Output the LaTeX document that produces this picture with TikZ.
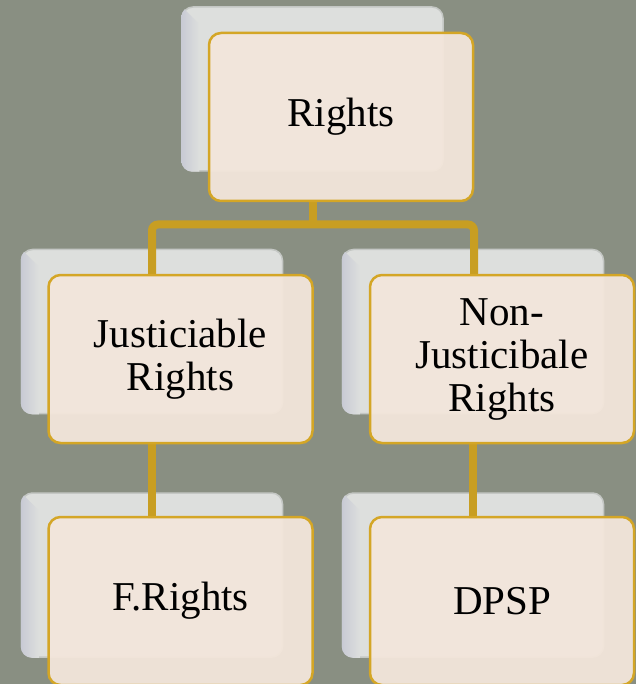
\documentclass[tikz,border=0pt]{standalone}
\usepackage{fontspec}
\setmainfont{Liberation Serif}
\begin{document}
\definecolor{bgcol}{RGB}{137,143,130}
\definecolor{linkcol}{RGB}{200,158,34}
\definecolor{facecol}{RGB}{243,230,219}
\definecolor{rimcol}{RGB}{212,166,38}
\definecolor{backcol}{RGB}{221,223,221}
\definecolor{bevelcol}{RGB}{200,202,212}
\definecolor{backrim}{RGB}{196,199,196}
\tikzset{
  link/.style={draw=linkcol, line width=8pt, rounded corners=6pt},
  backbox/.style={rectangle, rounded corners=11pt, draw=backrim, line width=1.5pt,
    fill=backcol, minimum width=261pt, minimum height=164pt, inner sep=0pt},
  facebox/.style={rectangle, rounded corners=12pt, draw=rimcol, line width=2.5pt,
    fill=facecol, fill opacity=0.95, text opacity=1, minimum width=264pt,
    minimum height=168pt, align=center, font=\fontsize{41}{43}\selectfont,
    text=black, inner sep=0pt},
}
\begin{tikzpicture}[x=1pt, y=-1pt]
  % canvas
  \fill[bgcol] (0,0) rectangle (636,684);
  \useasboundingbox (0,0) rectangle (636,684);

  % grey back plates with a soft bevel on the left edge
  \foreach \nm/\cx/\cy in {rb/312.5/89, jb/152/331.5, nb/473/331.5, fb/152/575, db/473/575}{
    \node[backbox] (\nm) at (\cx,\cy) {};
    \begin{scope}
      \clip[rounded corners=11pt] (\nm.south west) rectangle (\nm.north east);
      \shade[left color=bevelcol, right color=backcol]
        (\nm.south west) -- (\nm.north west) -- ([xshift=18pt,yshift=-18pt]\nm.north west)
        -- ([xshift=18pt]\nm.south west) -- cycle;
    \end{scope}
  }

  % card centres
  \coordinate (rc) at (341,117);
  \coordinate (jc) at (180.5,359);
  \coordinate (nc) at (502,359);
  \coordinate (fc) at (180.5,601);
  \coordinate (dc) at (502,601);

  % connectors
  \coordinate (bar) at (313,224.5);
  \draw[link] (313,200) -- (bar);
  \draw[link] (152,275) -- (152,224.5) -- (474,224.5) -- (474,275);
  \draw[link] (152,443) -- (152,519);
  \draw[link] (473,443) -- (473,519);

  % front cards
  \node[facebox] (rights) at (rc) {Rights};
  \node[facebox] (just) at (jc) {Justiciable\\Rights};
  \node[facebox] (nonjust) at (nc) {Non-\\Justicibale\\Rights};
  \node[facebox] (fr) at (fc) {F.Rights};
  \node[facebox] (dpsp) at (dc) {DPSP};
\end{tikzpicture}
\end{document}
